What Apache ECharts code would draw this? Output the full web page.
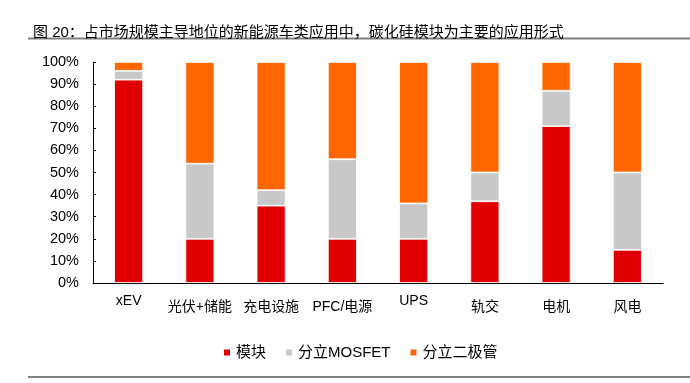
<!DOCTYPE html>
<html><head><meta charset="utf-8">
<script src="https://cdn.jsdelivr.net/npm/echarts@6/dist/echarts.min.js"></script>
<style>html,body{margin:0;padding:0;background:#fff}#c{width:690px;height:383px}</style>
</head><body><div id="c"></div>
<script>
const categories = ['xEV','光伏+储能','充电设施','PFC/电源','UPS','轨交','电机','风电'];
const moduleVals = [92,20,35,20,20,37,71,15];
const mosfetVals = [4,34,7,36,16,13,16,35];
const diodeVals  = [4,46,58,44,64,50,13,50];
const yTicks = [0,10,20,30,40,50,60,70,80,90,100];
const seriesNames = ['模块','分立MOSFET','分立二极管'];
const colors = ['#E00000','#C8C8C8','#FF6600'];

const latin = /^[A-Za-z]+$/;
const chart = echarts.init(document.getElementById('c'));
const font = 'Arial, "Liberation Sans", "Noto Sans CJK SC", sans-serif';
chart.setOption({
  animation:false,
  textStyle:{fontFamily:font},
  title:{text:'图 20：占市场规模主导地位的新能源车类应用中，碳化硅模块为主要的应用形式',left:28,top:20,
    textStyle:{fontSize:15,fontWeight:'normal',color:'#000',fontFamily:font}},
  graphic:[
    {type:'line',shape:{x1:28,y1:38.5,x2:690,y2:38.5},style:{stroke:'#808080',lineWidth:2}},
    {type:'line',shape:{x1:28,y1:377,x2:690,y2:377},style:{stroke:'#808080',lineWidth:2}}
  ],
  legend:{left:217,top:340,itemWidth:8,itemHeight:8,itemGap:18,icon:'rect',
    textStyle:{fontSize:15,color:'#000',padding:[0,0,0,0]},data:seriesNames},
  grid:{left:93,right:27,top:62,bottom:100},
  xAxis:{type:'category',data:categories.map(c=>latin.test(c)?{value:c}:{value:c,textStyle:{padding:[6,0,0,0]}}),
    axisLine:{lineStyle:{color:'#000',width:1}},
    axisTick:{inside:true,length:4,lineStyle:{color:'#000'}},
    axisLabel:{fontSize:14,color:'#000',margin:11,interval:0}},
  yAxis:{type:'value',min:0,max:100,interval:10,
    axisLine:{show:true,lineStyle:{color:'#000'}},
    axisTick:{show:true,inside:true,length:3,lineStyle:{color:'#000'}},
    splitLine:{show:false},
    axisLabel:{fontSize:14.5,color:'#000',margin:14,formatter:v=>yTicks.includes(v)?v+'%':''}},
  series:[moduleVals,mosfetVals,diodeVals].map((d,i)=>({
    name:seriesNames[i],type:'bar',stack:'s',data:d,barWidth:29,
    itemStyle:{color:colors[i],borderColor:'#fff',borderWidth:0.8}
  }))
});
</script></body></html>
